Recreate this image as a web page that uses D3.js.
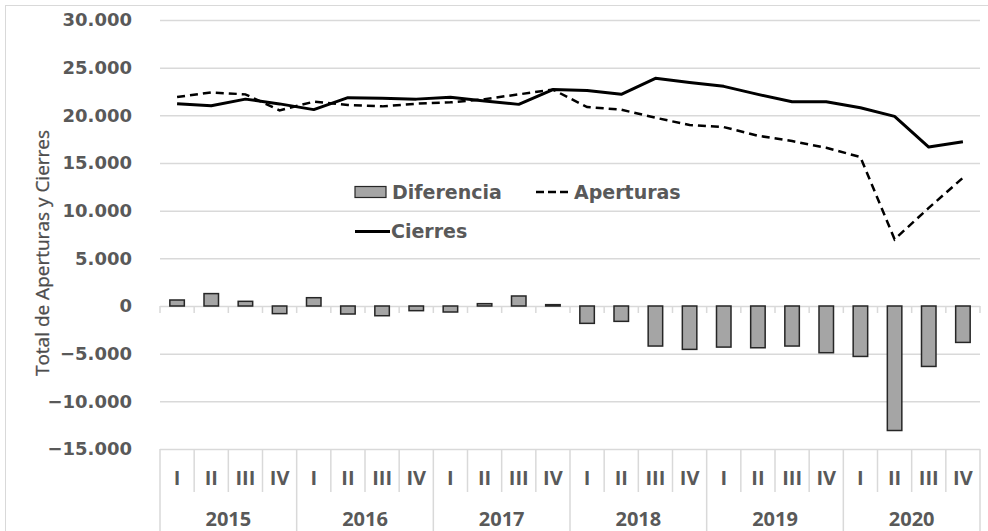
<!DOCTYPE html>
<html>
<head>
<meta charset="utf-8">
<script src="https://cdn.jsdelivr.net/npm/d3@7"></script>
<style>
  body { margin: 0; background: #fff; }
  svg { display: block; }
</style>
</head>
<body>
<div id="chart"></div>
<script>
// data
var years = ["2015", "2016", "2017", "2018", "2019", "2020"];
var quarters = ["I", "II", "III", "IV"];
var aperturas = [21920, 22400, 22200, 20520, 21430, 21080, 20940, 21220, 21360, 21700, 22200, 22700,
                 20870, 20590, 19750, 18980, 18770, 17860, 17300, 16600, 15620, 7000, 10290, 13450];
var cierres = [21220, 21000, 21700, 21200, 20600, 21850, 21800, 21700, 21900, 21500, 21150, 22700,
               22600, 22200, 23880, 23450, 23040, 22200, 21430, 21430, 20800, 19890, 16670, 17230];
var diferencia = [630, 1300, 490, -800, 870, -840, -1020, -490, -630, 245, 1050, 140,
                  -1820, -1610, -4200, -4550, -4310, -4380, -4200, -4900, -5290, -13060, -6340, -3820];
var yTicks = [-15000, -10000, -5000, 0, 5000, 10000, 15000, 20000, 25000, 30000];

function drawChart() {
  var W = 988, H = 531;
  var margin = {left: 160, right: 980, top: 20, bottom: 449};

  var cats = [];
  years.forEach(function(yr) { quarters.forEach(function(q) { cats.push(yr + "-" + q); }); });

  var x = d3.scaleBand().domain(cats).range([margin.left, margin.right]);
  var y = d3.scaleLinear().domain([-15000, 30000]).range([margin.bottom, margin.top]);
  var fmt = function(v) { return d3.format(",")(v).replace(/,/g, "."); };

  var grey = "#595959";

  var svg = d3.select("#chart").append("svg")
    .attr("width", W).attr("height", H);

  // outer border
  svg.append("rect")
    .attr("x", 5.5).attr("y", 5.5).attr("width", 1000).attr("height", 600)
    .attr("fill", "none").attr("stroke", "#d9d9d9");

  // gridlines
  svg.append("g")
    .attr("transform", "translate(" + margin.left + ",0)")
    .call(d3.axisLeft(y).tickValues(yTicks).tickSize(-(margin.right - margin.left)).tickFormat(""))
    .call(function(g) {
      g.select(".domain").remove();
      g.selectAll("line").attr("stroke", "#d9d9d9").attr("stroke-width", 1.5);
    });

  // y tick labels
  svg.append("g")
    .selectAll("text").data(yTicks).enter().append("text")
    .attr("x", 132).attr("y", function(d) { return y(d); })
    .attr("dy", "0.36em")
    .attr("text-anchor", "end")
    .attr("font-family", "DejaVu Sans").attr("font-weight", "bold")
    .attr("font-size", 18).attr("fill", grey)
    .text(fmt);

  // axis title
  svg.append("text")
    .attr("transform", "translate(49,253) rotate(-90)")
    .attr("text-anchor", "middle")
    .attr("font-family", "Open Sans").attr("font-size", 19).attr("fill", "#4d4d4d")
    .attr("stroke", "#4d4d4d").attr("stroke-width", 0.3)
    .text("Total de Aperturas y Cierres");

  // small ticks on zero line
  var bounds = cats.map(function(c) { return x(c); }).concat([margin.right]);
  svg.append("g").selectAll("line").data(bounds).enter().append("line")
    .attr("x1", function(d) { return d; }).attr("x2", function(d) { return d; })
    .attr("y1", y(0)).attr("y2", y(0) + 7)
    .attr("stroke", "#d9d9d9").attr("stroke-width", 1.5);

  // category axis separators
  var cat = svg.append("g").attr("stroke", "#d9d9d9").attr("stroke-width", 1.5);
  cat.selectAll("line").data(bounds).enter().append("line")
    .attr("x1", function(d) { return d; }).attr("x2", function(d) { return d; })
    .attr("y1", margin.bottom).attr("y2", function(d, i) { return i % 4 === 0 ? H : 492; });

  // quarter labels
  svg.append("g").selectAll("text").data(cats).enter().append("text")
    .attr("x", function(d) { return x(d) + x.bandwidth() / 2; })
    .attr("y", 478).attr("dy", "0.36em")
    .attr("text-anchor", "middle")
    .attr("font-family", "Open Sans").attr("font-weight", "bold")
    .attr("font-size", 20).attr("fill", grey)
    .text(function(d) { return d.split("-")[1]; });

  // year labels
  svg.append("g").selectAll("text").data(years).enter().append("text")
    .attr("x", function(d) { return x(d + "-I") + 2 * x.bandwidth(); })
    .attr("y", 519).attr("dy", "0.36em")
    .attr("text-anchor", "middle")
    .attr("font-family", "Open Sans").attr("font-weight", "bold")
    .attr("font-size", 20).attr("fill", grey)
    .text(function(d) { return d; });

  // bars
  var bw = 14.5;
  svg.append("g").selectAll("rect").data(diferencia).enter().append("rect")
    .attr("x", function(d, i) { return x(cats[i]) + (x.bandwidth() - bw) / 2; })
    .attr("y", function(d) { return y(Math.max(0, d)); })
    .attr("width", bw)
    .attr("height", function(d) { return Math.abs(y(d) - y(0)); })
    .attr("fill", "#a5a5a5").attr("stroke", "#262626").attr("stroke-width", 1.5);

  // lines
  var line = d3.line()
    .x(function(d, i) { return x(cats[i]) + x.bandwidth() / 2; })
    .y(function(d) { return y(d); });

  svg.append("path").datum(aperturas)
    .attr("d", line).attr("fill", "none")
    .attr("stroke", "#000").attr("stroke-width", 2.5).attr("stroke-dasharray", "8,5");

  svg.append("path").datum(cierres)
    .attr("d", line).attr("fill", "none")
    .attr("stroke", "#000").attr("stroke-width", 3).attr("stroke-linejoin", "round");

  // legend
  var lg = svg.append("g").attr("font-family", "DejaVu Sans").attr("font-weight", "bold")
    .attr("font-size", 19).attr("fill", grey);
  lg.append("rect").attr("x", 355).attr("y", 186.5).attr("width", 31).attr("height", 11)
    .attr("fill", "#a5a5a5").attr("stroke", "#262626").attr("stroke-width", 1.2);
  lg.append("text").attr("x", 392).attr("y", 192).attr("dy", "0.36em").text("Diferencia");
  lg.append("line").attr("x1", 536).attr("x2", 569).attr("y1", 192).attr("y2", 192)
    .attr("stroke", "#000").attr("stroke-width", 2.5).attr("stroke-dasharray", "8,4");
  lg.append("text").attr("x", 574).attr("y", 192).attr("dy", "0.36em").text("Aperturas");
  lg.append("line").attr("x1", 355).attr("x2", 390).attr("y1", 231.5).attr("y2", 231.5)
    .attr("stroke", "#000").attr("stroke-width", 3);
  lg.append("text").attr("x", 391).attr("y", 231.5).attr("dy", "0.36em").text("Cierres");
}

drawChart();
</script>
</body>
</html>
